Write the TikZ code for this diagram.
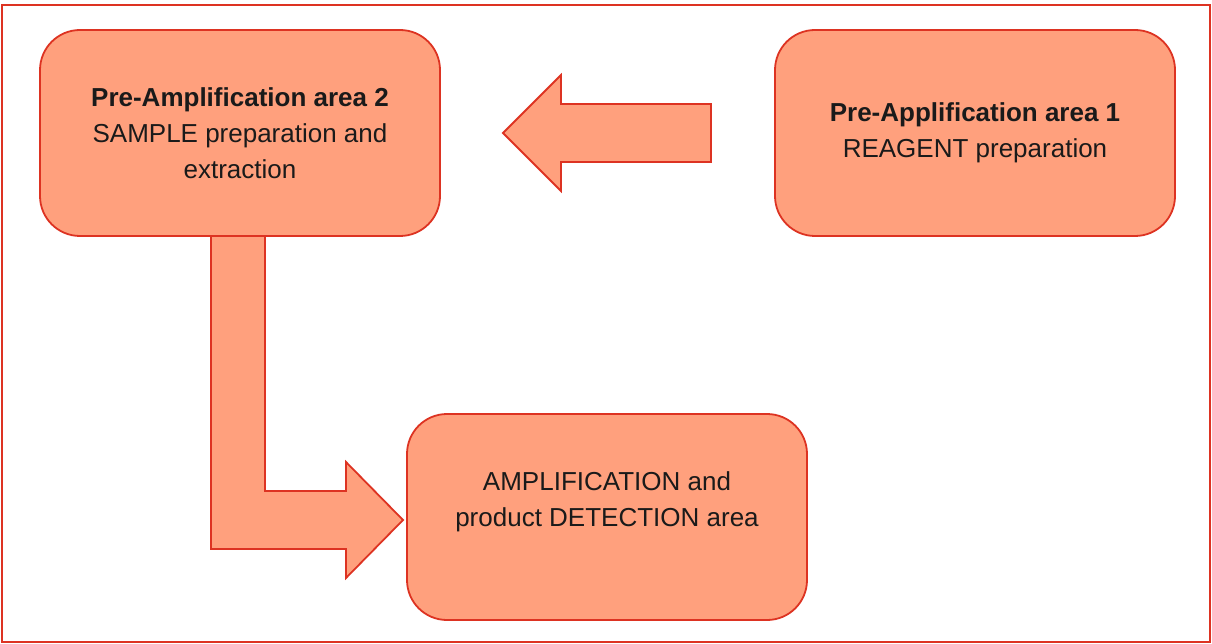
\documentclass[tikz,border=0pt]{standalone}
\usepackage{fontspec}
\setmainfont{Liberation Sans}
\definecolor{cdd3322}{RGB}{221,51,34}
\definecolor{cffa07d}{RGB}{255,160,125}
\definecolor{c1a1a1a}{RGB}{26,26,26}

\begin{document}
\begin{tikzpicture}[y=1pt, x=1pt, yscale=-1, inner sep=0pt, outer sep=0pt,
  areabox/.style={draw=cdd3322, fill=cffa07d, line width=1.8pt,
    rounded corners=40pt, minimum width=400pt, minimum height=206pt},
  areatext/.style={text=c1a1a1a, align=center,
    font=\fontsize{26}{36}\selectfont},
  blockarrow/.style={draw=cdd3322, fill=cffa07d, line width=1.8pt,
    line join=miter}]
  \useasboundingbox (0,0) rectangle (1212,644);
  \path[draw=cdd3322,line width=2pt] (2,5) rectangle (1210,642);
  % arrow from area 2 down to the detection area
  \path[blockarrow] (211,236) -- (265,236) -- (265,491) -- (346,491) --
    (346,462) -- (403,520) -- (346,578) -- (346,549) -- (211,549) -- cycle;
  % arrow from area 1 to area 2
  \path[blockarrow] (503,133) -- (561,75) -- (561,104) -- (711,104) --
    (711,162) -- (561,162) -- (561,191) -- cycle;
  \node[areabox] (box-sample) at (240,133) {};
  \node[areabox] (box-reagent) at (975,133) {};
  \node[areabox] (box-detection) at (607,517) {};
  \node[areatext] (text-sample) at (240,133)
    {\textbf{Pre-Amplification area 2}\\SAMPLE preparation and\\extraction};
  \node[areatext] (text-reagent) at (975,133)
    {\textbf{Pre-Applification area 1}\\REAGENT preparation};
  \node[areatext] (text-detection) at (607,502)
    {AMPLIFICATION and\\product DETECTION area};
\end{tikzpicture}
\end{document}
